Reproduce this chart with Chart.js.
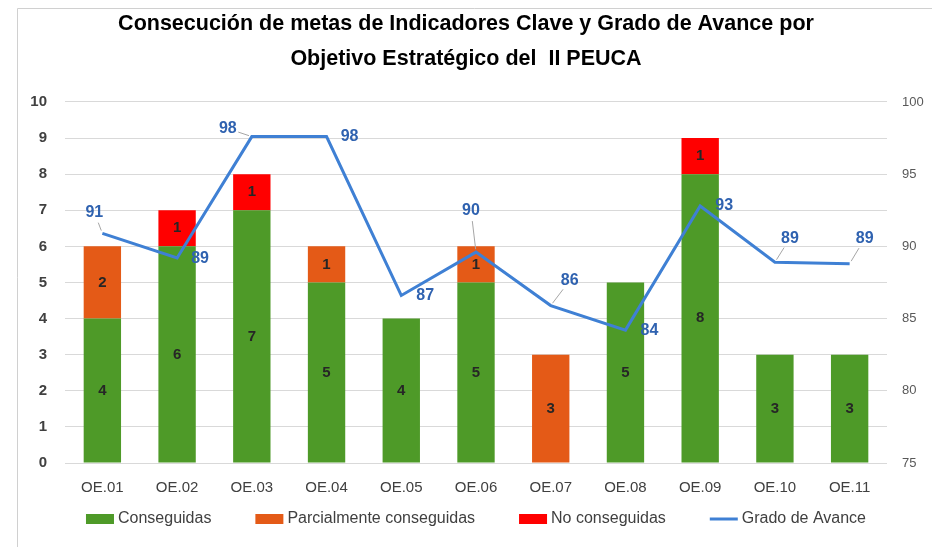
<!DOCTYPE html>
<html lang="es">
<head>
<meta charset="utf-8">
<script src="https://cdn.jsdelivr.net/npm/chart.js@4.4.1/dist/chart.umd.min.js"></script>
<style>
    html, body { margin: 0; padding: 0; background: #fff; }
    #caja { width: 932px; height: 547px; }
</style>
</head>
<body>
<div id="caja"><canvas id="graficoPeuca" width="932" height="547"></canvas></div>
<script>
// Datos del grafico
const categorias = ["OE.01", "OE.02", "OE.03", "OE.04", "OE.05", "OE.06", "OE.07", "OE.08", "OE.09", "OE.10", "OE.11"];
const conseguidas = [4, 6, 7, 5, 4, 5, 0, 5, 8, 3, 3];
const parcialmente = [2, 0, 0, 1, 0, 1, 3, 0, 0, 0, 0];
const noConseguidas = [0, 1, 1, 0, 0, 0, 0, 0, 1, 0, 0];
const gradoAvance = [90.9, 89.2, 97.6, 97.6, 86.6, 89.6, 85.9, 84.2, 92.8, 88.9, 88.8];

const ticksIzq = { min: 0, max: 10, paso: 1 };
const ticksDer = { min: 75, max: 100, paso: 5 };

// colocacion de las etiquetas de la linea (dx, dy, con linea guia?)
const posEtiquetas = [
    [-8, -21, true], [23, 1, false], [-24, -8, true], [23, 0, false],
    [24, 0, false], [-5, -42, true], [19, -25, true], [24, 0, false],
    [24, 0, false], [15, -24, true], [15, -25, true]
];

const fuente = "'Liberation Sans', Arial, sans-serif";
const azulEtiqueta = "#2F62B0";

// Etiquetas de valores (no hay plugin datalabels)
const pluginEtiquetas = {
    id: "etiquetas",
    afterDatasetsDraw(chart) {
        const ctx = chart.ctx;
        ctx.save();
        ctx.textAlign = "center";
        ctx.textBaseline = "middle";
        ctx.font = "bold 15px " + fuente;
        ctx.fillStyle = "#262626";
        for (let d = 0; d < 3; d++) {
            const meta = chart.getDatasetMeta(d);
            meta.data.forEach((barra, i) => {
                const v = chart.data.datasets[d].data[i];
                if (!v) return;
                ctx.fillText(String(v), barra.x, (barra.y + barra.base) / 2);
            });
        }
        ctx.font = "bold 16px " + fuente;
        const metaLinea = chart.getDatasetMeta(3);
        metaLinea.data.forEach((p, i) => {
            const [dx, dy, guia] = posEtiquetas[i];
            const tx = p.x + dx, ty = p.y + dy;
            if (guia) {
                // linea guia gris desde la etiqueta hasta el punto
                const largo = Math.hypot(dx, dy);
                const ux = -dx / largo, uy = -dy / largo;
                ctx.strokeStyle = "#a6a6a6";
                ctx.lineWidth = 1;
                ctx.beginPath();
                ctx.moveTo(tx + ux * 11, ty + uy * 11);
                ctx.lineTo(p.x - ux * 3, p.y - uy * 3);
                ctx.stroke();
            }
            ctx.fillStyle = azulEtiqueta;
            ctx.fillText(String(Math.round(gradoAvance[i])), tx, ty);
        });
        ctx.restore();
    }
};

// Leyenda dibujada a mano (espaciado amplio entre elementos)
const pluginLeyenda = {
    id: "leyendaPropia",
    afterDraw(chart) {
        const ctx = chart.ctx;
        const yLeyenda = 519;
        ctx.save();
        ctx.font = "16px " + fuente;
        ctx.textBaseline = "middle";
        ctx.textAlign = "left";
        const items = chart.data.datasets.map(ds => ({
            texto: ds.label,
            color: ds.type === "line" ? ds.borderColor : ds.backgroundColor,
            esLinea: ds.type === "line",
            ancho: ctx.measureText(ds.label).width
        }));
        const caja = 28, sep = 4, hueco = 44;
        const total = items.reduce((s, it) => s + caja + sep + it.ancho, 0) + hueco * (items.length - 1);
        let x = (chart.chartArea.left + chart.chartArea.right) / 2 - total / 2;
        items.forEach(it => {
            if (it.esLinea) {
                ctx.strokeStyle = it.color;
                ctx.lineWidth = 3;
                ctx.beginPath();
                ctx.moveTo(x, yLeyenda);
                ctx.lineTo(x + caja, yLeyenda);
                ctx.stroke();
            } else {
                ctx.fillStyle = it.color;
                ctx.fillRect(x, yLeyenda - 5, caja, 10);
            }
            x += caja + sep;
            ctx.fillStyle = "#404040";
            ctx.fillText(it.texto, x, yLeyenda);
            x += it.ancho + hueco;
        });
        ctx.restore();
    }
};

// Marco gris alrededor
const pluginMarco = {
    id: "marco",
    beforeDraw(chart) {
        const ctx = chart.ctx;
        ctx.save();
        ctx.fillStyle = "#fff";
        ctx.fillRect(0, 0, chart.width, chart.height);
        ctx.strokeStyle = "#d0d0d0";
        ctx.lineWidth = 1;
        ctx.beginPath();
        ctx.moveTo(17.5, chart.height);
        ctx.lineTo(17.5, 8.5);
        ctx.lineTo(chart.width, 8.5);
        ctx.stroke();
        ctx.restore();
    }
};

const ctx = document.getElementById("graficoPeuca").getContext("2d");

new Chart(ctx, {
    type: "bar",
    data: {
        labels: categorias,
        datasets: [
            { label: "Conseguidas", data: conseguidas, backgroundColor: "#4E9A28", order: 1, yAxisID: "y" },
            { label: "Parcialmente conseguidas", data: parcialmente, backgroundColor: "#E45A17", order: 1, yAxisID: "y" },
            { label: "No conseguidas", data: noConseguidas, backgroundColor: "#FF0000", order: 1, yAxisID: "y" },
            {
                type: "line", label: "Grado de Avance", data: gradoAvance,
                borderColor: "#3F80D4", backgroundColor: "#3F80D4", borderWidth: 3,
                pointRadius: 0, tension: 0, order: 0, yAxisID: "y1"
            }
        ]
    },
    options: {
        responsive: false,
        animation: false,
        layout: { padding: { left: 0, right: 0, top: 0, bottom: 34 } },
        datasets: { bar: { barPercentage: 0.5, categoryPercentage: 1 } },
        plugins: {
            title: {
                display: true,
                text: ["Consecución de metas de Indicadores Clave y Grado de Avance por", "Objetivo Estratégico del  II PEUCA"],
                color: "#000",
                font: { family: fuente, size: 21.5, weight: "bold", lineHeight: 1.65 },
                padding: { top: 6, bottom: 25 }
            },
            legend: { display: false },
            tooltip: { enabled: false }
        },
        scales: {
            x: {
                stacked: true,
                grid: { display: false, drawTicks: false },
                border: { display: false },
                ticks: { color: "#404040", font: { family: fuente, size: 15 }, padding: 16 }
            },
            y: {
                stacked: true,
                position: "left",
                min: ticksIzq.min, max: ticksIzq.max,
                ticks: { stepSize: ticksIzq.paso, color: "#404040", font: { family: fuente, size: 15, weight: "bold" }, padding: 18 },
                grid: { color: "#d9d9d9", drawTicks: false },
                border: { display: false },
                afterFit(scale) { scale.width = 65; }
            },
            y1: {
                position: "right",
                min: ticksDer.min, max: ticksDer.max,
                ticks: { stepSize: ticksDer.paso, color: "#595959", font: { family: fuente, size: 13 }, padding: 7 },
                grid: { display: false },
                border: { display: false },
                afterFit(scale) { scale.width = 45; }
            }
        }
    },
    plugins: [pluginMarco, pluginEtiquetas, pluginLeyenda]
});
</script>
</body>
</html>
